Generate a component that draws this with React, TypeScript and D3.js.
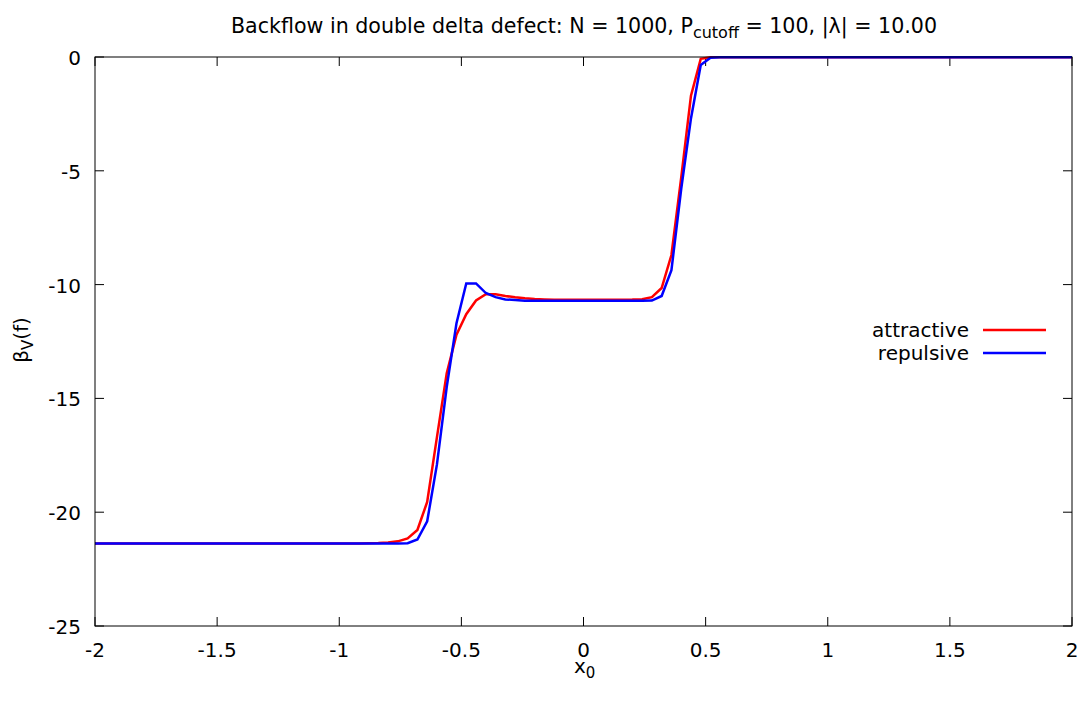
import React from "react";
import * as d3 from "d3";

const xValues = [
  -2.0, -1.96, -1.92, -1.88, -1.84, -1.8, -1.76, -1.72, -1.68, -1.64,
  -1.6, -1.56, -1.52, -1.48, -1.44, -1.4, -1.36, -1.32, -1.28, -1.24,
  -1.2, -1.16, -1.12, -1.08, -1.04, -1.0, -0.96, -0.92, -0.88, -0.84,
  -0.8, -0.76, -0.72, -0.68, -0.64, -0.6, -0.56, -0.52, -0.48, -0.44,
  -0.4, -0.36, -0.32, -0.28, -0.24, -0.2, -0.16, -0.12, -0.08, -0.04,
  0.0, 0.04, 0.08, 0.12, 0.16, 0.2, 0.24, 0.28, 0.32, 0.36,
  0.4, 0.44, 0.48, 0.52, 0.56, 0.6, 0.64, 0.68, 0.72, 0.76,
  0.8, 0.84, 0.88, 0.92, 0.96, 1.0, 1.04, 1.08, 1.12, 1.16,
  1.2, 1.24, 1.28, 1.32, 1.36, 1.4, 1.44, 1.48, 1.52, 1.56,
  1.6, 1.64, 1.68, 1.72, 1.76, 1.8, 1.84, 1.88, 1.92, 1.96,
  2.0,
];

const attractive = [
  -21.37, -21.37, -21.37, -21.37, -21.37, -21.37, -21.37, -21.37, -21.37, -21.37,
  -21.37, -21.37, -21.37, -21.37, -21.37, -21.37, -21.37, -21.37, -21.37, -21.37,
  -21.37, -21.37, -21.37, -21.37, -21.37, -21.37, -21.37, -21.37, -21.36, -21.35,
  -21.33, -21.28, -21.15, -20.78, -19.55, -16.7, -13.9, -12.2, -11.3, -10.7,
  -10.42, -10.42, -10.5, -10.56, -10.6, -10.63, -10.65, -10.67, -10.67, -10.67,
  -10.67, -10.67, -10.67, -10.67, -10.67, -10.66, -10.64, -10.55, -10.15, -8.7,
  -5.3, -1.7, -0.08, -0.01, -0.01, -0.01, -0.01, -0.01, -0.01, -0.01,
  -0.01, -0.01, -0.01, -0.01, -0.01, -0.01, -0.01, -0.01, -0.01, -0.01,
  -0.01, -0.01, -0.01, -0.01, -0.01, -0.01, -0.01, -0.01, -0.01, -0.01,
  -0.01, -0.01, -0.01, -0.01, -0.01, -0.01, -0.01, -0.01, -0.01, -0.01,
  -0.01,
];

const repulsive = [
  -21.37, -21.37, -21.37, -21.37, -21.37, -21.37, -21.37, -21.37, -21.37, -21.37,
  -21.37, -21.37, -21.37, -21.37, -21.37, -21.37, -21.37, -21.37, -21.37, -21.37,
  -21.37, -21.37, -21.37, -21.37, -21.37, -21.37, -21.37, -21.37, -21.37, -21.37,
  -21.37, -21.37, -21.36, -21.2, -20.4, -17.9, -14.5, -11.7, -9.95, -9.95,
  -10.37, -10.55, -10.65, -10.68, -10.71, -10.71, -10.71, -10.71, -10.71, -10.71,
  -10.71, -10.71, -10.71, -10.71, -10.71, -10.71, -10.71, -10.7, -10.5, -9.37,
  -5.8, -2.7, -0.35, -0.03, -0.01, -0.01, -0.01, -0.01, -0.01, -0.01,
  -0.01, -0.01, -0.01, -0.01, -0.01, -0.01, -0.01, -0.01, -0.01, -0.01,
  -0.01, -0.01, -0.01, -0.01, -0.01, -0.01, -0.01, -0.01, -0.01, -0.01,
  -0.01, -0.01, -0.01, -0.01, -0.01, -0.01, -0.01, -0.01, -0.01, -0.01,
  -0.01,
];

const xTicks = [-2, -1.5, -1, -0.5, 0, 0.5, 1, 1.5, 2];
const yTicks = [0, -5, -10, -15, -20, -25];
const seriesNames = ["attractive", "repulsive"];
const seriesColors = ["#ff0000", "#0000ff"];

const W = 1082;
const H = 701;
const left = 95;
const right = 1072;
const top = 57;
const bottom = 626;
const FONT = "'DejaVu Sans', sans-serif";
const FS = 20;
const SUB = 15;
const TICK = 9;

export default function App() {
  const x = d3.scaleLinear().domain([-2, 2]).range([left, right]);
  const y = d3.scaleLinear().domain([-25, 0]).range([bottom, top]);
  const line = d3
    .line<number>()
    .x((_, i) => x(xValues[i]))
    .y((d) => y(d));
  const series = [attractive, repulsive];

  return (
    <svg
      width={W}
      height={H}
      style={{ position: "absolute", left: 0, top: 0, background: "#fff" }}
      fontFamily={FONT}
    >
      <rect x={0} y={0} width={W} height={H} fill="#fff" />
      {xTicks.map((t) => (
        <g key={"xt" + t}>
          <line x1={x(t)} x2={x(t)} y1={bottom} y2={bottom - TICK} stroke="#000" strokeWidth={1} />
          <line x1={x(t)} x2={x(t)} y1={top} y2={top + TICK} stroke="#000" strokeWidth={1} />
          <text x={x(t)} y={657} fontSize={FS} textAnchor="middle" fill="#000">
            {t}
          </text>
        </g>
      ))}
      {yTicks.map((t) => (
        <g key={"yt" + t}>
          <line x1={left} x2={left + TICK} y1={y(t)} y2={y(t)} stroke="#000" strokeWidth={1} />
          <line x1={right} x2={right - TICK} y1={y(t)} y2={y(t)} stroke="#000" strokeWidth={1} />
          <text x={81} y={y(t) + 8} fontSize={FS} textAnchor="end" fill="#000">
            {t}
          </text>
        </g>
      ))}
      {series.map((s, k) => (
        <path
          key={seriesNames[k]}
          d={line(s) || ""}
          fill="none"
          stroke={seriesColors[k]}
          strokeWidth={2.5}
          strokeLinejoin="miter"
        />
      ))}
      <rect
        x={left}
        y={top}
        width={right - left}
        height={bottom - top}
        fill="none"
        stroke="#000"
        strokeWidth={1}
      />
      {seriesNames.map((n, k) => (
        <g key={"lg" + n}>
          <text x={969} y={337 + k * 23} fontSize={FS} textAnchor="end" fill="#000">
            {n}
          </text>
          <line
            x1={983}
            x2={1046}
            y1={330 + k * 23}
            y2={330 + k * 23}
            stroke={seriesColors[k]}
            strokeWidth={2.5}
          />
        </g>
      ))}
      <text x={584} y={33} fontSize={20.6} textAnchor="middle" fill="#000">
        Backflow in double delta defect: N = 1000, P
        <tspan fontSize={16} dy={5}>cutoff</tspan>
        <tspan dy={-5}> = 100, |λ| = 10.00</tspan>
      </text>
      <text x={574} y={673} fontSize={FS} fill="#000">
        x<tspan fontSize={SUB} dy={5}>0</tspan>
      </text>
      <text transform="translate(28,340) rotate(-90)" fontSize={FS} textAnchor="middle" fill="#000">
        β<tspan fontSize={SUB} dy={5}>V</tspan>
        <tspan dy={-5}>(f)</tspan>
      </text>
    </svg>
  );
}
